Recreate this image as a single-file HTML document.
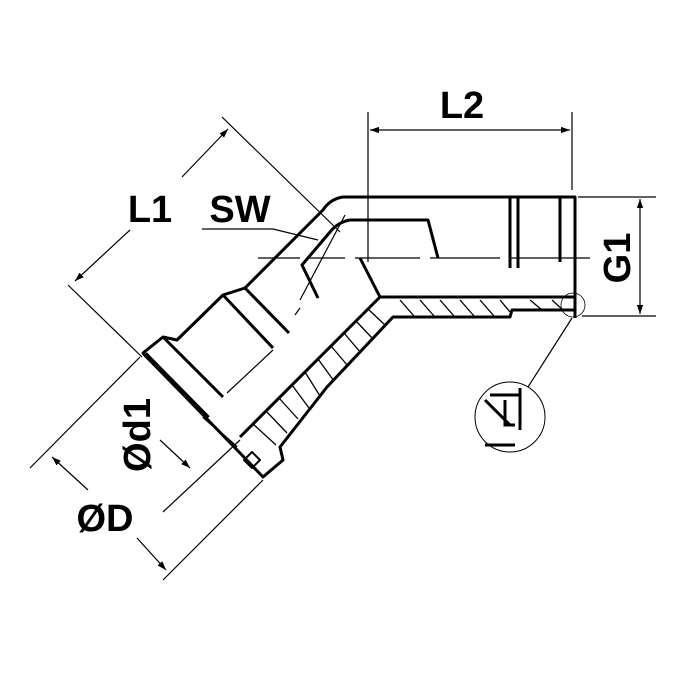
<!DOCTYPE html>
<html><head><style>
html,body{margin:0;padding:0;background:#fff;}
svg{display:block;}
text{font-family:"Liberation Sans",Arial,sans-serif;font-weight:bold;fill:#000;}
</style></head><body>
<svg width="700" height="700" viewBox="0 0 700 700" xmlns="http://www.w3.org/2000/svg">
<defs>
<marker id="a" viewBox="0 0 10 10" refX="10" refY="5" markerWidth="9" markerHeight="9" orient="auto-start-reverse" markerUnits="userSpaceOnUse"><path d="M0,1.5 L10,5 L0,8.5 z" fill="#000"/></marker>
</defs>
<g stroke="#000" fill="none" stroke-width="1.2">
<line x1="368" y1="112" x2="368" y2="262"/>
<line x1="572" y1="112" x2="572" y2="190"/>
<line x1="370" y1="130" x2="570" y2="130" marker-start="url(#a)" marker-end="url(#a)"/>
<line x1="578" y1="197" x2="656" y2="197"/>
<line x1="582" y1="316" x2="656" y2="316"/>
<line x1="640" y1="199" x2="640" y2="314" marker-start="url(#a)" marker-end="url(#a)"/>
<path d="M258 258 H300 M308 258 H345 M355 258 H420 M430 258 H500 M510 258 H590"/>
<path d="M300 300 L345 215 M295 315 L300 308"/>
<line x1="222" y1="117" x2="340" y2="232"/>
<line x1="68" y1="285" x2="142" y2="357"/>
<line x1="182" y1="177" x2="228" y2="129" marker-end="url(#a)"/>
<line x1="130" y1="230" x2="75" y2="281" marker-end="url(#a)"/>
<path d="M202 229 H273 L318 240"/>
<line x1="140" y1="357" x2="30" y2="468"/>
<line x1="263" y1="480" x2="163" y2="580"/>
<line x1="88" y1="490" x2="52" y2="457" marker-end="url(#a)"/>
<line x1="137" y1="538" x2="166" y2="570" marker-end="url(#a)"/>
<line x1="163" y1="512" x2="240" y2="440"/>
<line x1="160" y1="440" x2="190" y2="468" marker-end="url(#a)"/>
<circle cx="510" cy="417" r="35" stroke-width="1"/>
<line x1="572" y1="318" x2="528" y2="387"/>
<circle cx="573" cy="305" r="12" stroke-width="0.8"/>
<path d="M273 350 L227 393"/>
</g>
<g stroke="#000" fill="none" stroke-width="3" stroke-linejoin="round">
<path d="M510 197 H343 Q330 199 323 210 L245 288 L223 295 L177 340 L163 337 L143 353 L240 453 L263 477 L283 460 L280 447 L327 387 L393 317 H510 L512 310 H575 V197 H510"/>
<path d="M510 197 V268 M518 197 V268 M560 197 V262 M575 197 V318"/>
<path d="M380 297 H575"/>
<path d="M380 297 L360 258"/>
<path d="M380 297 L240 437"/>
<path d="M350 220 H428 L438 258"/>
<path d="M350 220 Q338 222 330 232 L302 265 L318 298"/>
<path d="M245 288 L289 333 M223 295 L273 348"/>
<path d="M163 337 L223 397"/>
<path d="M145 354 L208 418" stroke-width="5"/>
<path d="M203 417 L237 447 M244 460 L252 452 L260 460 L252 468 Z" stroke-width="2"/>
</g>
<g stroke="#000" stroke-width="1.3">
<path d="M400 300 L414 316 M420 300 L434 316 M440 300 L454 316 M460 300 L474 316 M480 300 L494 316 M500 300 L510 312 M530 300 L542 310 M552 300 L563 310"/>
<path d="M368 309 L385 325 M356 321 L373 339 M344 333 L361 353 M331 346 L348 366 M318 359 L334 381 M305 372 L320 396 M292 385 L309 408 M279 398 L298 419 M266 411 L287 433 M253 424 L276 445"/>
</g>
<g stroke="#000" fill="none" stroke-width="3">
<path d="M490 395 H520 M520 388 V430 M505 400 V425 H515 M485 445 H515 M485 400 L510 425"/>
</g>
<text x="462" y="118" font-size="38" text-anchor="middle">L2</text>
<text x="150" y="222" font-size="38" text-anchor="middle">L1</text>
<text x="240" y="222" font-size="38" text-anchor="middle">SW</text>
<text x="105" y="531" font-size="38" text-anchor="middle">ØD</text>
<text transform="translate(630,258) rotate(-90)" font-size="38" text-anchor="middle">G1</text>
<text transform="translate(150,435) rotate(-90)" font-size="38" text-anchor="middle">Ød1</text>
</svg>
</body></html>
